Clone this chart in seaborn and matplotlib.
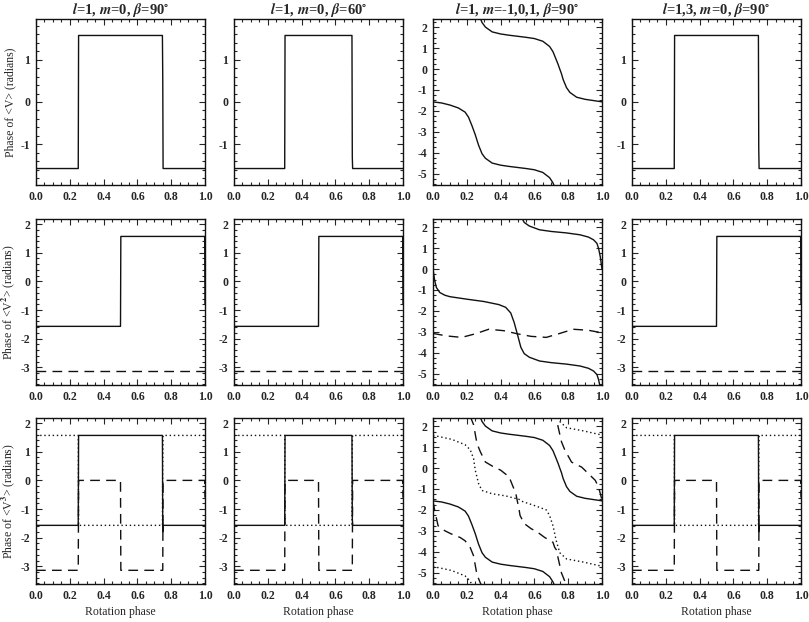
import numpy as np
import pandas as pd
import matplotlib
matplotlib.use("Agg")
import matplotlib.pyplot as plt
import seaborn as sns
from matplotlib.ticker import MultipleLocator, FormatStrFormatter, FixedLocator

# ---------------- data ----------------
col_titles = [r"$l$=1, $m$=0, $\beta$=90$^{\circ}$",
              r"$l$=1, $m$=0, $\beta$=60$^{\circ}$",
              r"$l$=1, $m$=-1,0,1, $\beta$=90$^{\circ}$",
              r"$l$=1,3, $m$=0, $\beta$=90$^{\circ}$"]
row_ylabels = ["Phase of <V> (radians)",
               "Phase of <V$^2$> (radians)",
               "Phase of <V$^3$> (radians)"]
x_ticks = [0.0, 0.2, 0.4, 0.6, 0.8, 1.0]

# row 1 (phase of <V>), step curves
v1_b90_x = [0.0, 0.25, 0.252, 0.748, 0.75, 0.752, 1.0]
v1_b90_y = [-1.571, -1.571, 1.571, 1.571, 0.6, -1.571, -1.571]
v1_b60_x = [0.0, 0.30, 0.302, 0.698, 0.70, 0.702, 1.0]
v1_b60_y = [-1.571, -1.571, 1.571, 1.571, -1.3, -1.571, -1.571]
v1_l13_x = [0.0, 0.25, 0.252, 0.748, 0.75, 0.752, 1.0]
v1_l13_y = [-1.571, -1.571, 1.571, 1.571, -1.1, -1.571, -1.571]

# row 2 (phase of <V^2>), step curves
v2_solid_x = [0.0, 0.50, 0.502, 0.998, 1.0]
v2_solid_y = [-1.571, -1.571, 1.571, 1.571, -0.8]
v2_dash_x = [0.0, 1.0]
v2_dash_y = [-3.142, -3.142]

# row 3 (phase of <V^3>), step curves
v3_b90_x = [0.0, 0.25, 0.252, 0.748, 0.75, 0.752, 1.0]
v3_b90_solid = [-1.571, -1.571, 1.571, 1.571, -1.8, -1.571, -1.571]
v3_b90_dot = [1.571, 1.571, -1.571, -1.571, 0.6, 1.571, 1.571]
v3_b90_dash_x = [0.0, 0.25, 0.252, 0.50, 0.502, 0.75, 0.752, 0.998, 1.0]
v3_b90_dash_y = [-3.142, -3.142, 0.0, 0.0, -3.142, -3.142, 0.0, 0.0, -0.6]
v3_b60_x = [0.0, 0.30, 0.302, 0.698, 0.70, 0.702, 1.0]
v3_b60_solid = [-1.571, -1.571, 1.571, 1.571, -1.3, -1.571, -1.571]
v3_b60_dot = [1.571, 1.571, -1.571, -1.571, 1.3, 1.571, 1.571]
v3_b60_dash_x = [0.0, 0.30, 0.302, 0.50, 0.502, 0.70, 0.702, 0.998, 1.0]
v3_b60_dash_y = [-3.142, -3.142, 0.0, 0.0, -3.142, -3.142, 0.0, 0.0, -0.6]

# column 3 (m = -1,0,1): unwrapped phases (drawn modulo 2*pi)
m3_v1_x = [0.0, 0.05, 0.10, 0.15, 0.19, 0.21, 0.23, 0.24, 0.25, 0.26, 0.27, 0.29,
           0.31, 0.35, 0.40, 0.45, 0.50, 0.55, 0.60, 0.65, 0.69, 0.71, 0.73, 0.74,
           0.75, 0.76, 0.77, 0.79, 0.81, 0.85, 0.90, 0.95, 1.0]
m3_v1_y = [-1.57, -1.62, -1.72, -1.86, -2.06, -2.30, -2.70, -2.92, -3.14, -3.40,
           -3.65, -4.05, -4.27, -4.50, -4.60, -4.66, -4.71, -4.76, -4.82, -4.95,
           -5.20, -5.45, -5.85, -6.05, -6.28, -6.50, -6.78, -7.17, -7.40, -7.63,
           -7.73, -7.79, -7.85]

m3_v2_x = [0.0, 0.01, 0.02, 0.04, 0.07, 0.10, 0.20, 0.30, 0.39, 0.43, 0.46, 0.48,
           0.50, 0.52, 0.54, 0.57, 0.63, 0.70, 0.79, 0.87, 0.92, 0.95, 0.97, 0.98,
           0.99, 1.0]
m3_v2_y = [0.0, -0.55, -0.88, -1.12, -1.25, -1.32, -1.44, -1.55, -1.70, -1.83,
           -2.10, -2.55, -3.14, -3.75, -4.05, -4.22, -4.40, -4.48, -4.55, -4.64,
           -4.75, -4.88, -5.05, -5.30, -5.70, -6.28]
m3_v2d_x = [0.0, 0.08, 0.17, 0.25, 0.33, 0.42, 0.50, 0.58, 0.67, 0.75, 0.83, 0.92, 1.0]
m3_v2d_y = [-3.08, -3.20, -3.27, -3.10, -2.88, -2.95, -3.10, -3.22, -3.27, -3.08,
            -2.88, -2.93, -3.05]

m3_v3dot_x = [0.0, 0.03, 0.11, 0.19, 0.22, 0.24, 0.25, 0.27, 0.29, 0.35, 0.43, 0.51,
              0.53, 0.61, 0.67, 0.69, 0.71, 0.73, 0.75, 0.79, 0.89, 1.0]
m3_v3dot_y = [1.55, 1.52, 1.38, 1.12, 0.88, 0.46, -0.10, -0.75, -1.07, -1.23,
              -1.33, -1.50, -1.60, -1.82, -2.00, -2.27, -2.76, -3.50, -4.05, -4.35,
              -4.50, -4.70]
m3_v3dash_x = [0.0, 0.012, 0.03, 0.07, 0.11, 0.16, 0.19, 0.22, 0.24, 0.26, 0.28,
               0.31, 0.36, 0.40, 0.45, 0.49, 0.50, 0.51, 0.515, 0.54, 0.58, 0.62,
               0.66, 0.71, 0.72, 0.73, 0.74, 0.76, 0.78, 0.82, 0.88, 0.96, 0.98, 1.0]
m3_v3dash_y = [-1.60, -2.10, -2.76, -3.00, -3.16, -3.32, -3.48, -3.80, -4.20, -5.10,
               -5.50, -5.99, -6.23, -6.38, -6.70, -7.50, -7.90, -8.30, -8.55, -8.94,
               -9.18, -9.36, -9.60, -9.84, -10.08, -10.20, -10.58, -11.30, -11.70,
               -12.28, -12.52, -13.15, -13.48, -14.10]

# ---------------- style ----------------
sns.set_style("ticks")
plt.rcParams['font.family'] = ['Liberation Serif', 'DejaVu Serif']
plt.rcParams['mathtext.fontset'] = 'stix'
plt.rcParams['axes.unicode_minus'] = False
plt.rcParams['font.weight'] = 'bold'

LINE = dict(color='#111111', lw=1.0)
SOLID = '-'
DASH = (0, (7, 4.5))
DOT = (0, (1.0, 2.0))

fig = plt.figure(figsize=(8.09, 6.22), dpi=100)
W, H = 809.0, 622.0
col_left = [36, 234, 433, 632]
row_top = [19, 219, 418]
aw, ah = 169, 166

axes = [[fig.add_axes([col_left[c] / W, 1 - (row_top[r] + ah) / H, aw / W, ah / H])
         for c in range(4)] for r in range(3)]


def draw(ax, x, y, ls, wrap=False):
    ks = [-1, 0, 1, 2, 3] if wrap else [0]
    for k in ks:
        yy = np.asarray(y, dtype=float) + 2 * np.pi * k
        sns.lineplot(x=x, y=yy, ax=ax, estimator=None, sort=False,
                     linestyle=ls, **LINE)


# Row 1
draw(axes[0][0], v1_b90_x, v1_b90_y, SOLID)
draw(axes[0][1], v1_b60_x, v1_b60_y, SOLID)
draw(axes[0][2], m3_v1_x, m3_v1_y, SOLID, wrap=True)
draw(axes[0][3], v1_l13_x, v1_l13_y, SOLID)

# Row 2
for c in (0, 1, 3):
    draw(axes[1][c], v2_solid_x, v2_solid_y, SOLID)
    draw(axes[1][c], v2_dash_x, v2_dash_y, DASH)
draw(axes[1][2], m3_v2_x, m3_v2_y, SOLID, wrap=True)
draw(axes[1][2], m3_v2d_x, m3_v2d_y, DASH)

# Row 3
for c in (0, 3):
    draw(axes[2][c], v3_b90_x, v3_b90_dot, DOT)
    draw(axes[2][c], v3_b90_dash_x, v3_b90_dash_y, DASH)
    draw(axes[2][c], v3_b90_x, v3_b90_solid, SOLID)
draw(axes[2][1], v3_b60_x, v3_b60_dot, DOT)
draw(axes[2][1], v3_b60_dash_x, v3_b60_dash_y, DASH)
draw(axes[2][1], v3_b60_x, v3_b60_solid, SOLID)
draw(axes[2][2], m3_v1_x, m3_v1_y, SOLID, wrap=True)
draw(axes[2][2], m3_v3dot_x, m3_v3dot_y, DOT, wrap=True)
draw(axes[2][2], m3_v3dash_x, m3_v3dash_y, DASH, wrap=True)

# axes formatting
for r in range(3):
    for c in range(4):
        ax = axes[r][c]
        ax.set_xlim(0, 1)
        if c == 2:
            ax.set_ylim(-5.55, 2.4)
            ax.yaxis.set_major_locator(FixedLocator([-5, -4, -3, -2, -1, 0, 1, 2]))
            ax.yaxis.set_minor_locator(MultipleLocator(0.25))
        elif r == 0:
            ax.set_ylim(-1.96, 1.96)
            ax.yaxis.set_major_locator(FixedLocator([-1, 0, 1]))
            ax.yaxis.set_minor_locator(MultipleLocator(0.2))
        else:
            ax.set_ylim(-3.62, 2.18)
            ax.yaxis.set_major_locator(FixedLocator([-3, -2, -1, 0, 1, 2]))
            ax.yaxis.set_minor_locator(MultipleLocator(0.2))
        ax.xaxis.set_major_locator(FixedLocator(x_ticks))
        ax.xaxis.set_minor_locator(MultipleLocator(0.05))
        ax.xaxis.set_major_formatter(FormatStrFormatter('%.1f'))
        ax.yaxis.set_major_formatter(FormatStrFormatter('%d'))
        ax.tick_params(which='both', direction='in', top=True, right=True,
                       width=0.8, labelsize=8.5)
        ax.tick_params(which='major', length=4.5, pad=4)
        ax.tick_params(which='minor', length=2.2)
        for sp in ax.spines.values():
            sp.set_linewidth(1.0)
            sp.set_color('#111111')
        ax.set_xlabel("")
        ax.set_ylabel("")
        if r == 0:
            ax.set_title(col_titles[c], fontsize=10.5, fontweight='bold', pad=3)
        if r == 2:
            ax.set_xlabel("Rotation phase", fontsize=8.5, fontweight='normal',
                          labelpad=3)
        if c == 0:
            ax.set_ylabel(row_ylabels[r], fontsize=8.5, fontweight='normal')
            ax.yaxis.set_label_coords(-0.115, 0.5)

fig.savefig("out.png", dpi=100)
